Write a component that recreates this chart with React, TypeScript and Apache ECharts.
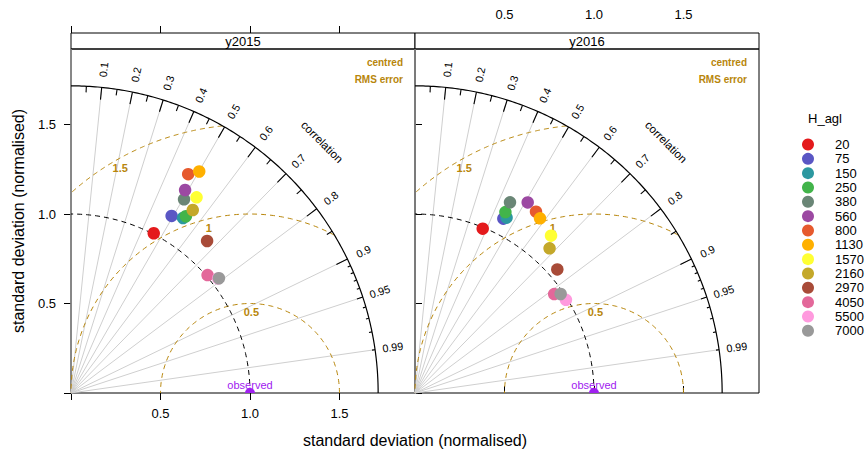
import React, { useEffect, useRef } from "react";
import * as echarts from "echarts";

// Height classes (m above ground level) and their colours
const levels = ["20", "75", "150", "250", "380", "560", "800", "1130", "1570", "2160", "2970", "4050", "5500", "7000"];
const levelColors = [
  "#E41A1C", "#5A56C4", "#2C98A0", "#42B44A", "#6A8676", "#9C49A2", "#E65A2E",
  "#FFB000", "#FFFF33", "#C4A82A", "#A84B38", "#E3689A", "#FF9ADE", "#999999",
];

const panelNames = ["y2015", "y2016"];

// Normalised standard deviation and correlation per height class
const sd2015 = [1.005, 1.138, 1.161, 1.178, 1.253, 1.301, 1.387, 1.43, 1.299, 1.228, 1.14, 1.008, 1.042, 1.046];
const r2015 = [0.46, 0.494, 0.539, 0.545, 0.504, 0.49, 0.472, 0.501, 0.54, 0.554, 0.667, 0.757, 0.789, 0.79];
const sd2016 = [0.993, 1.092, 1.105, 1.13, 1.19, 1.237, 1.218, 1.2, 1.162, 1.104, 1.053, 0.954, 0.991, 0.984];
const r2016 = [0.381, 0.452, 0.463, 0.447, 0.446, 0.509, 0.555, 0.582, 0.654, 0.681, 0.755, 0.815, 0.851, 0.827];

const panelSd = [sd2015, sd2016];
const panelR = [r2015, r2016];

// Diagram furniture
const corrLines = [0.1, 0.2, 0.3, 0.4, 0.5, 0.6, 0.7, 0.8, 0.9, 0.95, 0.99];
const bigTicks = [0.1, 0.2, 0.3, 0.4, 0.5, 0.6, 0.7, 0.8, 0.9];
const medTicks = [0.05, 0.15, 0.25, 0.35, 0.45, 0.55, 0.65, 0.75, 0.85, 0.95];
const smallTicks = [0.91, 0.92, 0.93, 0.94, 0.96, 0.97, 0.98, 0.99];
const rmsLevels = [0.5, 1, 1.5];
const rmsLabelAngles = [89, 104, 120];
const axisTickValues = [0, 0.5, 1, 1.5];
const axisLabelValues = [0.5, 1, 1.5];

const MAXSD = 1.2 * Math.max(...sd2015, ...sd2016);
const AX_MAX = MAXSD * 1.12;

const FONT = '"Liberation Sans", Arial, Helvetica, sans-serif';
const GOLD = "#B8860B";
const PURPLE = "#A020F0";

const GRID_LEFT = [71, 415];
const GRID_TOP = 49;
const PANEL = 344;
const STRIP = 16;

function renderDiagram(_params: any, api: any) {
  const P = (x: number, y: number) => api.coord([x, y]);
  const polar = (r: number, t: number) => P(r * Math.cos(t), r * Math.sin(t));
  const o = P(0, 0);
  const children: any[] = [];

  // sd = 0 axis
  const top = P(0, AX_MAX);
  children.push({
    type: "line",
    shape: { x1: o[0], y1: o[1], x2: top[0], y2: top[1] },
    style: { stroke: "#8a8a8a", lineWidth: 1.6 },
  });

  // correlation rays
  for (const c of corrLines) {
    const e = polar(MAXSD, Math.acos(c));
    children.push({
      type: "line",
      shape: { x1: o[0], y1: o[1], x2: e[0], y2: e[1] },
      style: { stroke: "#cfcfcf", lineWidth: 1 },
    });
  }

  // centred RMS error arcs around the observed point
  rmsLevels.forEach((r, i) => {
    const cmax = Math.min(1, (MAXSD * MAXSD - 1 - r * r) / (2 * r));
    const cmin = Math.max(-1, -1 / r);
    const p0 = Math.acos(cmax);
    const p1 = Math.acos(cmin);
    const pts: number[][] = [];
    const n = 160;
    for (let k = 0; k <= n; k++) {
      const ph = p0 + ((p1 - p0) * k) / n;
      pts.push(P(1 + r * Math.cos(ph), r * Math.sin(ph)));
    }
    children.push({
      type: "polyline",
      shape: { points: pts },
      style: { stroke: GOLD, lineWidth: 1, lineDash: [5, 4], fill: "none" },
    });
    const a = (rmsLabelAngles[i] * Math.PI) / 180;
    const lp = P(1 + (r - 0.05) * Math.cos(a), (r - 0.05) * Math.sin(a));
    children.push({
      type: "text",
      x: lp[0],
      y: lp[1],
      style: {
        text: String(r),
        fill: GOLD,
        fontSize: 11,
        fontWeight: "bold",
        fontFamily: FONT,
        align: "center",
        verticalAlign: "middle",
      },
    });
  });

  // observed standard deviation arc
  {
    const pts: number[][] = [];
    for (let k = 0; k <= 120; k++) pts.push(polar(1, (Math.PI / 2) * (k / 120)));
    children.push({
      type: "polyline",
      shape: { points: pts },
      style: { stroke: "#000", lineWidth: 1, lineDash: [5, 4], fill: "none" },
    });
  }

  // outer arc
  {
    const pts: number[][] = [];
    for (let k = 0; k <= 180; k++) pts.push(polar(MAXSD, (Math.PI / 2) * (k / 180)));
    children.push({
      type: "polyline",
      shape: { points: pts },
      style: { stroke: "#000", lineWidth: 1.2, fill: "none" },
    });
  }

  // tick marks on the outer arc
  const tick = (c: number, f: number) => {
    const t = Math.acos(c);
    const a = polar(MAXSD, t);
    const b = polar(MAXSD * f, t);
    children.push({
      type: "line",
      shape: { x1: a[0], y1: a[1], x2: b[0], y2: b[1] },
      style: { stroke: "#000", lineWidth: 1.1 },
    });
  };
  bigTicks.forEach((c) => tick(c, 0.96));
  medTicks.forEach((c) => tick(c, 0.98));
  smallTicks.forEach((c) => tick(c, 0.99));

  // correlation labels
  for (const c of corrLines) {
    const t = Math.acos(c);
    const p = polar(MAXSD * 1.058, t);
    children.push({
      type: "text",
      x: p[0],
      y: p[1],
      rotation: t,
      style: {
        text: String(c),
        fill: "#000",
        fontSize: 10.8,
        fontFamily: FONT,
        align: "center",
        verticalAlign: "middle",
      },
    });
  }
  {
    const p = polar(MAXSD * 1.156, Math.PI / 4);
    children.push({
      type: "text",
      x: p[0],
      y: p[1],
      rotation: -Math.PI / 4,
      style: {
        text: "correlation",
        fill: "#000",
        fontSize: 11.5,
        fontFamily: FONT,
        align: "center",
        verticalAlign: "middle",
      },
    });
  }

  // centred RMS error caption
  const tr = P(AX_MAX, AX_MAX);
  children.push({
    type: "text",
    x: tr[0] - 12,
    y: tr[1] + 13.5,
    style: {
      text: "centred",
      fill: GOLD,
      fontSize: 10,
      fontWeight: "bold",
      fontFamily: FONT,
      align: "right",
      verticalAlign: "middle",
    },
  });
  children.push({
    type: "text",
    x: tr[0] - 12,
    y: tr[1] + 30.5,
    style: {
      text: "RMS error",
      fill: GOLD,
      fontSize: 10,
      fontWeight: "bold",
      fontFamily: FONT,
      align: "right",
      verticalAlign: "middle",
    },
  });

  // observed reference point
  const ob = P(1, 0);
  children.push({
    type: "sector",
    shape: { cx: ob[0], cy: ob[1], r0: 0, r: 5, startAngle: Math.PI, endAngle: 2 * Math.PI },
    style: { fill: PURPLE },
  });
  children.push({
    type: "text",
    x: ob[0],
    y: ob[1] - 8.5,
    style: {
      text: "observed",
      fill: PURPLE,
      fontSize: 11,
      fontFamily: FONT,
      align: "center",
      verticalAlign: "middle",
    },
  });

  return { type: "group", children };
}

export default function App() {
  const ref = useRef<HTMLDivElement>(null);

  useEffect(() => {
    if (!ref.current) return;
    const chart = echarts.init(ref.current, undefined, { renderer: "svg" });

    const baseAxis = {
      type: "value" as const,
      min: 0,
      max: AX_MAX,
      interval: 0.5,
      splitLine: { show: false },
      axisLine: { show: false },
    };
    const tickOn = { show: true, length: 7, customValues: axisTickValues, lineStyle: { color: "#000", width: 1 } };
    const labelStyle = {
      customValues: axisLabelValues,
      formatter: (v: number) => v.toFixed(1),
      fontSize: 13,
      color: "#000",
      fontFamily: FONT,
    };

    const series: any[] = [];
    panelNames.forEach((_, p) => {
      series.push({
        type: "custom",
        coordinateSystem: "cartesian2d",
        xAxisIndex: p === 0 ? 0 : 2,
        yAxisIndex: p,
        data: [[0, 0]],
        renderItem: renderDiagram,
        silent: true,
        clip: false,
        z: 1,
      });
    });
    panelNames.forEach((_, p) => {
      levels.forEach((lv, i) => {
        const sd = panelSd[p][i];
        const r = panelR[p][i];
        series.push({
          type: "scatter",
          name: lv,
          xAxisIndex: p === 0 ? 0 : 2,
          yAxisIndex: p,
          data: [[sd * r, sd * Math.sqrt(1 - r * r)]],
          symbol: "circle",
          symbolSize: 12.5,
          itemStyle: { color: levelColors[i], opacity: 1 },
          z: 3,
        });
      });
    });

    const graphic: any[] = [];
    panelNames.forEach((name, p) => {
      const x = GRID_LEFT[p];
      graphic.push({
        type: "rect",
        shape: { x, y: GRID_TOP - STRIP, width: PANEL, height: STRIP },
        style: { fill: "#fff", stroke: "#000", lineWidth: 1 },
        z: 0,
      });
      graphic.push({
        type: "rect",
        shape: { x, y: GRID_TOP, width: PANEL, height: PANEL },
        style: { fill: "none", stroke: "#000", lineWidth: 1 },
        z: 0,
      });
      graphic.push({
        type: "text",
        x: x + PANEL / 2,
        y: GRID_TOP - STRIP / 2 + 0.5,
        style: {
          text: name,
          fill: "#000",
          fontSize: 13,
          fontFamily: FONT,
          align: "center",
          verticalAlign: "middle",
        },
        z: 5,
      });
    });
    graphic.push({
      type: "text",
      x: 415,
      y: 440,
      style: {
        text: "standard deviation (normalised)",
        fill: "#000",
        fontSize: 16,
        fontFamily: FONT,
        align: "center",
        verticalAlign: "middle",
      },
    });
    graphic.push({
      type: "text",
      x: 18,
      y: 221,
      rotation: Math.PI / 2,
      style: {
        text: "standard deviation (normalised)",
        fill: "#000",
        fontSize: 16,
        fontFamily: FONT,
        align: "center",
        verticalAlign: "middle",
      },
    });
    graphic.push({
      type: "text",
      x: 825,
      y: 118,
      style: {
        text: "H_agl",
        fill: "#000",
        fontSize: 13,
        fontFamily: FONT,
        align: "center",
        verticalAlign: "middle",
      },
    });

    chart.setOption({
      animation: false,
      backgroundColor: "#fff",
      grid: [
        { left: GRID_LEFT[0], top: GRID_TOP, width: PANEL, height: PANEL, outerBoundsMode: "none" },
        { left: GRID_LEFT[1], top: GRID_TOP, width: PANEL, height: PANEL, outerBoundsMode: "none" },
      ],
      xAxis: [
        {
          ...baseAxis,
          gridIndex: 0,
          position: "bottom",
          axisTick: tickOn,
          axisLabel: { ...labelStyle, margin: 14 },
        },
        {
          ...baseAxis,
          gridIndex: 0,
          position: "top",
          offset: STRIP,
          axisTick: tickOn,
          axisLabel: { show: false },
        },
        {
          ...baseAxis,
          gridIndex: 1,
          position: "top",
          offset: STRIP,
          axisTick: tickOn,
          axisLabel: { ...labelStyle, margin: 12 },
        },
      ],
      yAxis: [
        {
          ...baseAxis,
          gridIndex: 0,
          position: "left",
          axisTick: tickOn,
          axisLabel: { ...labelStyle, margin: 15 },
        },
        {
          ...baseAxis,
          gridIndex: 1,
          position: "right",
          axisTick: tickOn,
          axisLabel: { show: false },
        },
      ],
      legend: {
        orient: "vertical",
        left: 802,
        top: 138,
        padding: 0,
        itemWidth: 12,
        itemHeight: 12,
        itemGap: 1.33,
        icon: "circle",
        selectedMode: false,
        data: levels,
        textStyle: {
          fontSize: 13,
          color: "#000",
          fontFamily: FONT,
          lineHeight: 12,
          padding: [0, 0, 0, 16],
        },
      },
      graphic,
      series,
    });

    return () => chart.dispose();
  }, []);

  return (
    <div
      ref={ref}
      style={{ position: "fixed", left: 0, top: 0, width: 868, height: 449, background: "#fff" }}
    />
  );
}
